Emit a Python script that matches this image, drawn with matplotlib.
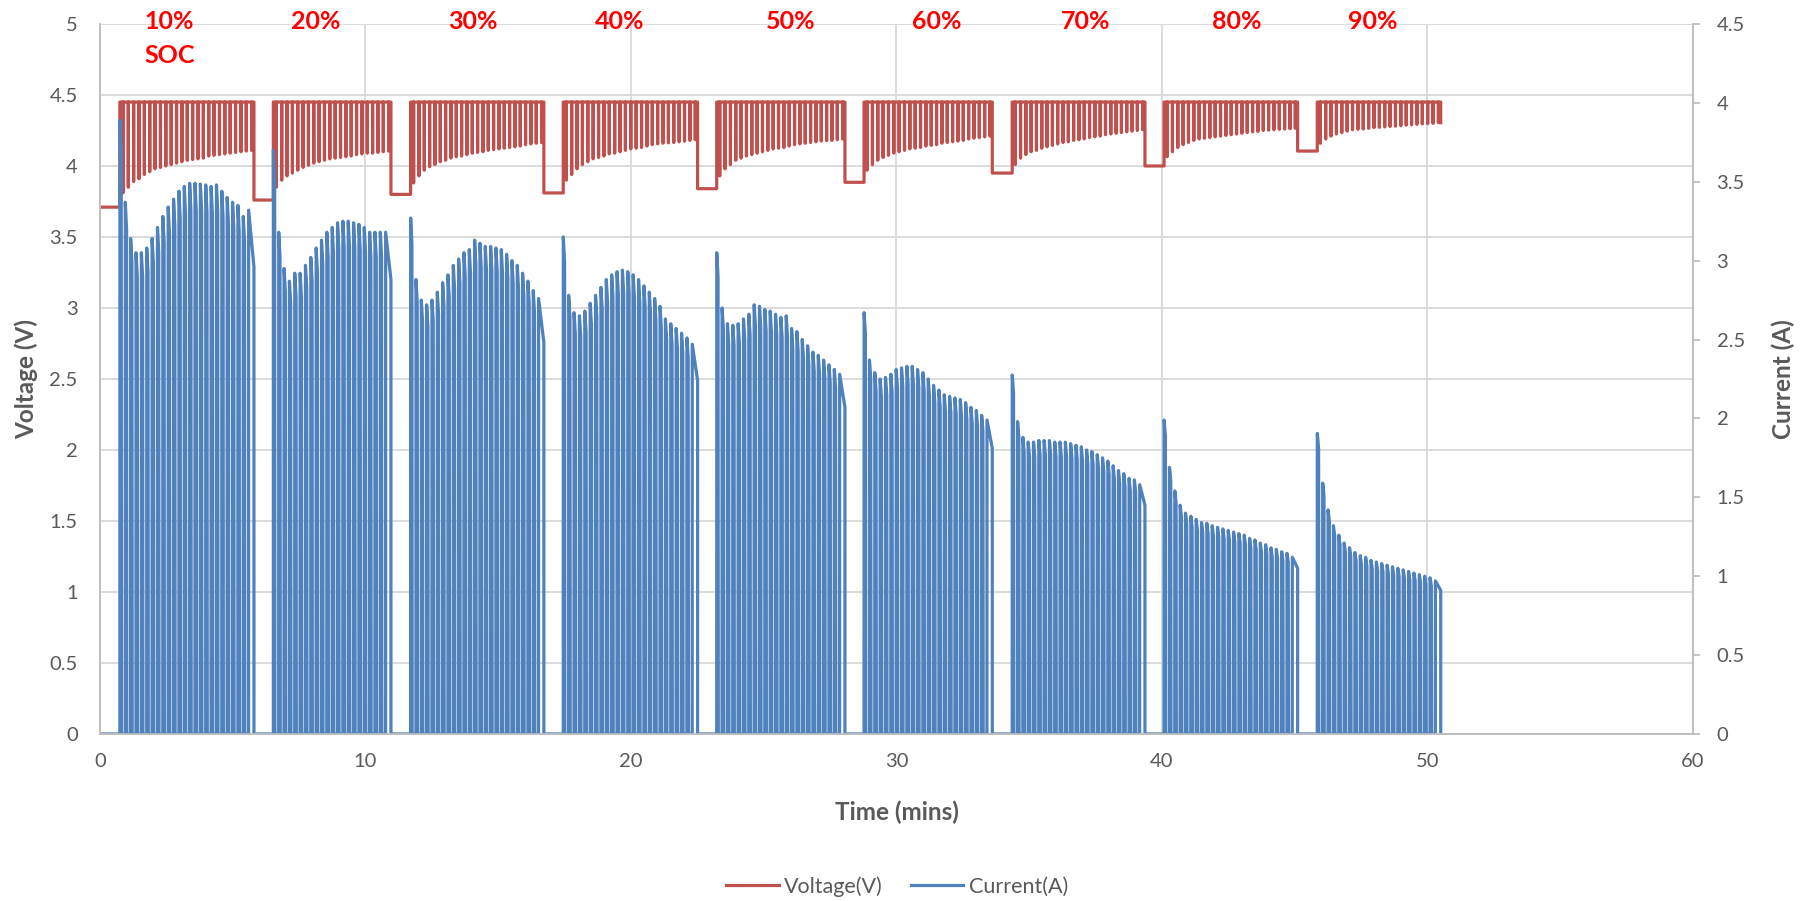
import numpy as np
import matplotlib.pyplot as plt

plt.rcParams['font.family'] = ['Lato', 'DejaVu Sans']

# charge segments (minutes)
seg_start = [0.75, 6.53, 11.70, 17.45, 23.23, 28.78, 34.36, 40.08, 45.85]
seg_end = [5.80, 10.96, 16.72, 22.51, 28.06, 33.61, 39.36, 45.11, 50.50]

# open-circuit voltage before each segment
rest_voltage = [3.71, 3.76, 3.80, 3.81, 3.84, 3.885, 3.95, 4.00, 4.105]
cv_voltage = 4.45

# peak current of every pulse in each segment (A)
peak_current = [
    [3.89, 3.37, 3.14, 3.05, 3.05, 3.08, 3.14, 3.21, 3.28, 3.34, 3.39, 3.44, 3.47,
     3.49, 3.49, 3.485, 3.48, 3.47, 3.48, 3.44, 3.40, 3.37, 3.35, 3.28, 3.32],
    [3.70, 3.18, 2.95, 2.87, 2.92, 2.92, 2.97, 3.02, 3.08, 3.13, 3.18, 3.21, 3.24,
     3.25, 3.25, 3.24, 3.23, 3.21, 3.18, 3.18, 3.18, 3.18],
    [3.27, 2.88, 2.75, 2.72, 2.75, 2.80, 2.86, 2.91, 2.97, 3.01, 3.05, 3.07, 3.13,
     3.11, 3.09, 3.09, 3.08, 3.07, 3.04, 3.00, 2.97, 2.92, 2.87, 2.81, 2.76],
    [3.15, 2.78, 2.67, 2.65, 2.68, 2.73, 2.78, 2.83, 2.88, 2.91, 2.93, 2.94, 2.93,
     2.91, 2.88, 2.84, 2.80, 2.76, 2.71, 2.63, 2.60, 2.57, 2.54, 2.51, 2.47],
    [3.05, 2.70, 2.60, 2.59, 2.60, 2.63, 2.66, 2.72, 2.71, 2.69, 2.68, 2.66, 2.64,
     2.65, 2.57, 2.55, 2.50, 2.46, 2.42, 2.40, 2.37, 2.34, 2.31, 2.28],
    [2.67, 2.37, 2.29, 2.25, 2.26, 2.28, 2.31, 2.32, 2.33, 2.33, 2.31, 2.29, 2.25,
     2.21, 2.18, 2.15, 2.14, 2.13, 2.12, 2.10, 2.07, 2.05, 2.02, 1.99],
    [2.275, 1.98, 1.88, 1.85, 1.85, 1.86, 1.86, 1.86, 1.85, 1.85, 1.85, 1.84, 1.83,
     1.82, 1.80, 1.79, 1.77, 1.75, 1.73, 1.70, 1.67, 1.65, 1.62, 1.61, 1.58],
    [1.99, 1.69, 1.54, 1.45, 1.40, 1.38, 1.36, 1.34, 1.335, 1.32, 1.31, 1.30, 1.29,
     1.28, 1.27, 1.26, 1.24, 1.23, 1.21, 1.20, 1.18, 1.17, 1.155, 1.145, 1.12],
    [1.905, 1.59, 1.42, 1.32, 1.26, 1.21, 1.18, 1.15, 1.13, 1.12, 1.10, 1.09, 1.08,
     1.07, 1.06, 1.05, 1.04, 1.03, 1.02, 1.01, 1.00, 0.99, 0.97],
]
# current at the very end of each segment
tail_current = [2.96, 2.88, 2.48, 2.24, 2.07, 1.81, 1.45, 1.05, 0.91]

# relaxation voltage between pulses (V)
dip_voltage = [
    [3.81, 3.85, 3.89, 3.91, 3.94, 3.96, 3.98, 3.99, 4.00, 4.01, 4.02, 4.03, 4.04,
     4.045, 4.05, 4.055, 4.07, 4.075, 4.08, 4.085, 4.09, 4.095, 4.10, 4.105, 4.11],
    [3.85, 3.90, 3.93, 3.95, 3.97, 3.99, 4.005, 4.02, 4.03, 4.04, 4.05, 4.055, 4.06,
     4.065, 4.07, 4.08, 4.085, 4.09, 4.09, 4.095, 4.10, 4.105],
    [3.88, 3.93, 3.97, 3.995, 4.01, 4.03, 4.04, 4.055, 4.065, 4.07, 4.08, 4.09, 4.095,
     4.10, 4.11, 4.115, 4.12, 4.125, 4.13, 4.135, 4.14, 4.15, 4.155, 4.16, 4.165],
    [3.90, 3.94, 3.98, 4.01, 4.03, 4.05, 4.06, 4.07, 4.085, 4.09, 4.10, 4.11, 4.12,
     4.125, 4.13, 4.14, 4.15, 4.155, 4.16, 4.163, 4.165, 4.17, 4.175, 4.18, 4.185],
    [3.93, 3.98, 4.01, 4.04, 4.055, 4.07, 4.08, 4.09, 4.10, 4.11, 4.12, 4.125, 4.13,
     4.14, 4.15, 4.155, 4.16, 4.165, 4.17, 4.175, 4.178, 4.18, 4.185, 4.19],
    [3.97, 4.01, 4.04, 4.06, 4.075, 4.09, 4.10, 4.11, 4.12, 4.125, 4.13, 4.14, 4.145,
     4.15, 4.16, 4.165, 4.17, 4.175, 4.18, 4.19, 4.195, 4.20, 4.205, 4.21],
    [4.01, 4.055, 4.08, 4.10, 4.11, 4.125, 4.135, 4.145, 4.155, 4.165, 4.17, 4.18, 4.185,
     4.19, 4.20, 4.205, 4.21, 4.22, 4.225, 4.23, 4.235, 4.24, 4.245, 4.25, 4.255],
    [4.065, 4.10, 4.13, 4.15, 4.165, 4.18, 4.19, 4.195, 4.20, 4.205, 4.21, 4.215, 4.22,
     4.225, 4.23, 4.235, 4.24, 4.243, 4.25, 4.252, 4.255, 4.258, 4.26, 4.262, 4.265],
    [4.16, 4.19, 4.21, 4.225, 4.235, 4.245, 4.255, 4.258, 4.26, 4.265, 4.27, 4.272, 4.275,
     4.278, 4.28, 4.283, 4.287, 4.29, 4.293, 4.296, 4.298, 4.30, 4.305],
]

soc_labels = ["10%", "20%", "30%", "40%", "50%", "60%", "70%", "80%", "90%"]
soc_label_x = [2.59, 8.13, 14.03, 19.58, 26.03, 31.53, 37.13, 42.83, 47.93]

red = '#C0504D'
blue = '#4F81BD'
grey_txt = '#595959'
grey_line = '#BFBFBF'

# build the stepped voltage and pulsed current traces
t_v, volt = [0.0], [rest_voltage[0]]
t_i, curr = [0.0], [0.0]
n_seg = len(seg_start)
for k in range(n_seg):
    s, e = seg_start[k], seg_end[k]
    peaks, dips = peak_current[k], dip_voltage[k]
    n = len(peaks)
    period = (e - s) / n

    t_v += [s, s]
    volt += [rest_voltage[k], cv_voltage]
    for j in range(n):
        td = s + (j + 0.55) * period
        t_v += [td, td + 0.02 * period, td + 0.04 * period]
        volt += [cv_voltage, dips[j], cv_voltage]
    if k < n_seg - 1:
        t_v += [e, e]
        volt += [cv_voltage, rest_voltage[k + 1]]
    else:
        t_v += [e, e]
        volt += [cv_voltage, dips[-1]]

    for j in range(n):
        t0 = s + j * period
        if j < n - 1:
            t_i += [t0, t0 + 0.01 * period, t0 + 0.25 * period, t0 + 0.30 * period]
            curr += [0.0, peaks[j], 0.95 * peaks[j], 0.0]
        else:
            t_i += [t0, t0 + 0.01 * period, e, e]
            curr += [0.0, peaks[j], tail_current[k], 0.0]

fig = plt.figure(figsize=(18.01, 9.01), dpi=100)
ax = fig.add_axes([0.0555, 0.1854, 0.8845, 0.788])
ax2 = ax.twinx()

lv, = ax.plot(t_v, volt, color=red, lw=2.3, label='Voltage(V)')
li, = ax2.plot(t_i, curr, color=blue, lw=2.3, label='Current(A)')

ax.set_xlim(0, 60)
ax.set_ylim(0, 5)
ax2.set_ylim(0, 4.5)
ax.set_xticks(np.arange(0, 61, 10))
ax.set_yticks(np.arange(0, 5.01, 0.5))
ax.set_yticklabels(['0', '0.5', '1', '1.5', '2', '2.5', '3', '3.5', '4', '4.5', '5'])
ax2.set_yticks(np.arange(0, 4.51, 0.5))
ax2.set_yticklabels(['0', '0.5', '1', '1.5', '2', '2.5', '3', '3.5', '4', '4.5'])

ax.grid(True, color='#D9D9D9', lw=1.3)
ax.set_axisbelow(True)
ax.spines['top'].set_visible(False)
ax2.spines['top'].set_visible(False)
for sp in ['left', 'bottom', 'right']:
    ax.spines[sp].set_color(grey_line)
    ax2.spines[sp].set_color(grey_line)
    ax.spines[sp].set_linewidth(1.3)
    ax2.spines[sp].set_linewidth(1.3)

ax.tick_params(axis='both', length=0, labelsize=14.5, labelcolor=grey_txt)
ax.tick_params(axis='y', pad=16)
ax.tick_params(axis='x', pad=14)
ax2.tick_params(axis='y', length=5, width=1.3, color=grey_line, labelsize=14.5,
                labelcolor=grey_txt, pad=12)

ax.set_xlabel('Time (mins)', fontsize=17.5, fontweight='bold', color=grey_txt, labelpad=22)
ax.set_ylabel('Voltage (V)', fontsize=17.5, fontweight='bold', color=grey_txt, labelpad=8)
ax2.set_ylabel('Current (A)', fontsize=17.5, fontweight='bold', color=grey_txt, labelpad=19)

for lab, x in zip(soc_labels, soc_label_x):
    ax.text(x, 5.02, lab, color='#FF0000', fontsize=18, fontweight='bold',
            ha='center', va='center')
ax.text(1.66, 4.776, 'SOC', color='#FF0000', fontsize=18, fontweight='bold',
        ha='left', va='center')

fig.legend(handles=[lv, li], loc='center', bbox_to_anchor=(0.498, 0.016), ncol=2,
           frameon=False, fontsize=15.5, handlelength=2.45, handletextpad=0.25,
           columnspacing=1.3, labelcolor=grey_txt)

fig.savefig('out.png', dpi=100)
